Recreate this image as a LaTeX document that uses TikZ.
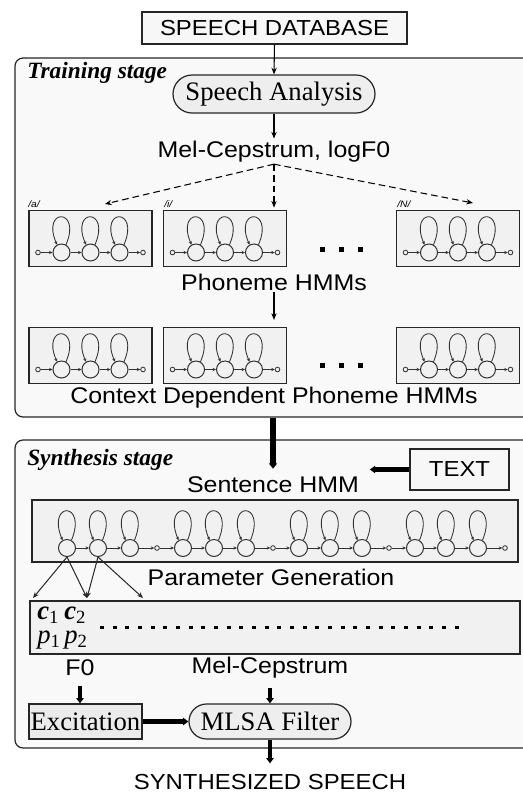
\documentclass[tikz,border=0pt]{standalone}
\usepackage{fontspec}
\usetikzlibrary{arrows.meta}
\usetikzlibrary{calc}
\usepgflibrary{shapes.misc}
\newfontfamily\sansfnt[FakeStretch=1.1]{Liberation Sans}
\newfontfamily\seriffnt{Liberation Serif}
\tikzset{
	phonehmm/.pic={
		\node[hmmdot] (-in) at (-52.5,14) {};
		\foreach \k/\sx in {1/-29,2/0,3/29}
			\node[hmmstate] (-s\k) at (\sx,14) {};
		\node[hmmdot] (-out) at (52.5,14) {};
		\draw[hmmarrow] (-in) -- (-s1);
		\draw[hmmarrow] (-s1) -- (-s2);
		\draw[hmmarrow] (-s2) -- (-s3);
		\draw[hmmarrow] (-s3) -- (-out);
		\foreach \k in {1,2,3}
			\draw[hmmarrow] (-s\k.60) .. controls +(16,-37) and +(-16,-37) .. (-s\k.120);
	}
}

\begin{document}
\begin{tikzpicture}[x=0.75pt,y=-0.75pt,
		boxline/.style={draw=black!85,line width=0.9pt},
		stagebox/.style={boxline,fill=gray!5,rounded corners=6pt,inner sep=0pt},
		hmmbox/.style={boxline,fill=gray!11,inner sep=0pt,minimum width=92.25pt,minimum height=42.5pt},
		lbl/.style={font=\sansfnt\fontsize{17}{19}\selectfont,inner sep=1pt},
		capslbl/.style={font=\sansfnt\fontsize{16.3}{18}\selectfont,inner sep=1pt},
		serlbl/.style={font=\seriffnt\fontsize{20}{22}\selectfont,inner sep=0pt},
		stagelbl/.style={font=\seriffnt\bfseries\itshape\fontsize{17.5}{19}\selectfont,anchor=west,inner sep=0pt},
		phonelbl/.style={font=\sansfnt\itshape\fontsize{7}{8}\selectfont,anchor=west,inner sep=0pt},
		hmmstate/.style={circle,draw=black!80,line width=0.75pt,minimum size=12.75pt,inner sep=0pt},
		hmmdot/.style={circle,draw=black!80,line width=0.6pt,minimum size=3.5pt,inner sep=0pt},
		hmmarrow/.style={-{Stealth[length=2.6pt,width=2.4pt]},line width=0.65pt,black!80},
		genarrow/.style={-{Stealth[length=4.5pt,width=3.6pt]},line width=0.75pt,black!85},
		thinarrow/.style={-{Stealth[length=5pt,width=4pt]},line width=0.8pt},
		dasharrow/.style={thinarrow,dash pattern=on 5pt off 3pt},
		fatarrow/.style={-{Triangle[length=4pt,width=6pt]},line width=5pt},
		midarrow/.style={-{Triangle[length=4pt,width=5.5pt]},line width=3.6pt}]
	\clip (0,0) rectangle (523,794);

	\node[stagebox,minimum width=390pt,minimum height=269.25pt] (train) at (275,237.5) {};
	\node[stagebox,minimum width=390pt,minimum height=231pt] (synth) at (275,594) {};
	\node[stagelbl] (trainlbl) at (27,73) {Training stage};
	\node[stagelbl] (synthlbl) at (27,460) {Synthesis stage};

	\node[capslbl,boxline,fill=gray!6,minimum width=198.75pt,minimum height=24pt] (db) at (274.5,28) {SPEECH DATABASE};
	\node[serlbl,rounded rectangle,boxline,fill=gray!13,minimum width=151.5pt,minimum height=28.5pt] (ana) at (274,94) {Speech Analysis};
	\node[lbl] (mel) at (274,152) {Mel-Cepstrum, logF0};

	\node[hmmbox] (pa) at (90.5,238.5) {};
	\node[hmmbox] (pi) at (225,238.5) {};
	\node[hmmbox] (pn) at (458,238.5) {};
	\node[hmmbox] (ca) at (90.5,355.5) {};
	\node[hmmbox] (ci) at (225,355.5) {};
	\node[hmmbox] (cn) at (458,355.5) {};
	\foreach \b in {pa,pi,pn,ca,ci,cn}
		\pic (h\b) at (\b.center) {phonehmm};
	\node[phonelbl] (la) at (28,204) {/a/};
	\node[phonelbl] (li) at (164,204) {/i/};
	\node[phonelbl] (ln) at (397,204) {/N/};
	\foreach \yy in {249,365}
		\foreach \xx in {322,341,360}
			\fill (\xx-2.5,\yy-2.5) rectangle +(5,5);
	\node[lbl] (phon) at (274,282) {Phoneme HMMs};
	\node[lbl] (ctx) at (274,398) {Context Dependent Phoneme HMMs};

	\coordinate (tipa) at (105,204);
	\coordinate (tipn) at (473,203);
	\draw[thinarrow] (db.south) -- (ana.north);
	\draw[thinarrow,shorten >=1pt] (ana.south) -- (mel.north);
	\draw[dasharrow] (mel.south) -- (tipa);
	\draw[dasharrow,shorten >=1.5pt] (mel.south) -- (mel.south |- pi.north);
	\draw[dasharrow] (mel.south) -- (tipn);
	\draw[thinarrow,shorten >=5pt] (phon.south) -- (phon.south |- ci.north);

	\node[lbl] (senthmm) at (273,485) {Sentence HMM};
	\node[capslbl,boxline,fill=gray!6,minimum width=74.25pt,minimum height=30.75pt] (textbox) at (459.5,469.5) {TEXT};
	\draw[fatarrow,shorten >=5pt] (train.south -| senthmm) -- (senthmm.north);
	\draw[midarrow,shorten >=7pt] (textbox.west) -- (textbox.west -| senthmm.east);

	\node[boxline,fill=gray!11,minimum width=364.5pt,minimum height=46.5pt] (sent) at (275,531) {};
	\foreach \g [count=\gi] in {67,183,299,415} {
		\foreach \o [count=\k] in {0,31,63}
			\node[hmmstate] (q\gi\k) at (\g+\o,548) {};
		\node[hmmdot] (c\gi) at (\g+90,548) {};
		\draw[hmmarrow] (q\gi1) -- (q\gi2);
		\draw[hmmarrow] (q\gi2) -- (q\gi3);
		\draw[hmmarrow] (q\gi3) -- (c\gi);
		\foreach \k in {1,2,3}
			\draw[hmmarrow] (q\gi\k.60) .. controls +(16,-39) and +(-16,-39) .. (q\gi\k.120);
	}
	\foreach \gi [evaluate=\gi as \gn using int(\gi+1)] in {1,2,3}
		\draw[hmmarrow] (c\gi) -- (q\gn1);

	\node[lbl] (pgen) at (271,577) {Parameter Generation};
	\node[boxline,fill=gray!11,minimum width=367.5pt,minimum height=39.75pt] (param) at (275,627.5) {};
	\coordinate (pg1) at (33,598);
	\coordinate (pg2) at (87,598);
	\coordinate (pg3) at (143,598);
	\draw[genarrow] (q11.south) -- (pg1);
	\draw[genarrow] (q11.south) -- (pg2);
	\draw[genarrow] (q12.south) -- (pg2);
	\draw[genarrow] (q12.south) -- (pg3);
	\node[serlbl,anchor=west] (c1) at (37,615) {\textbf{\textit{c}}\textsubscript{1}};
	\node[serlbl,anchor=west] (c2) at (64,615) {\textbf{\textit{c}}\textsubscript{2}};
	\node[serlbl,anchor=west] (p1) at (37,640) {\textit{p}\textsubscript{1}};
	\node[serlbl,anchor=west] (p2) at (64,640) {\textit{p}\textsubscript{2}};
	\draw[line width=2.25pt,dash pattern=on 3pt off 6.5pt] (100,627) -- (467,627);

	\node[lbl] (f0) at (80,668) {F0};
	\node[lbl] (melc) at (270,668) {Mel-Cepstrum};
	\node[serlbl,boxline,fill=gray!16,minimum width=84.75pt,minimum height=26.25pt] (exc) at (85.5,721.5) {Excitation};
	\node[serlbl,rounded rectangle,boxline,fill=gray!13,minimum width=121.5pt,minimum height=26.25pt] (mlsa) at (270,721.5) {MLSA Filter};
	\draw[midarrow,shorten <=6pt] (f0.south) -- (f0.south |- exc.north);
	\draw[midarrow,shorten <=6pt] (melc.south) -- (mlsa.north);
	\draw[midarrow] (exc.east) -- (mlsa.west);

	\node[capslbl] (out) at (270,782) {SYNTHESIZED SPEECH};
	\draw[midarrow,shorten >=7pt] (mlsa.south) -- (out.north);
\end{tikzpicture}
\end{document}
